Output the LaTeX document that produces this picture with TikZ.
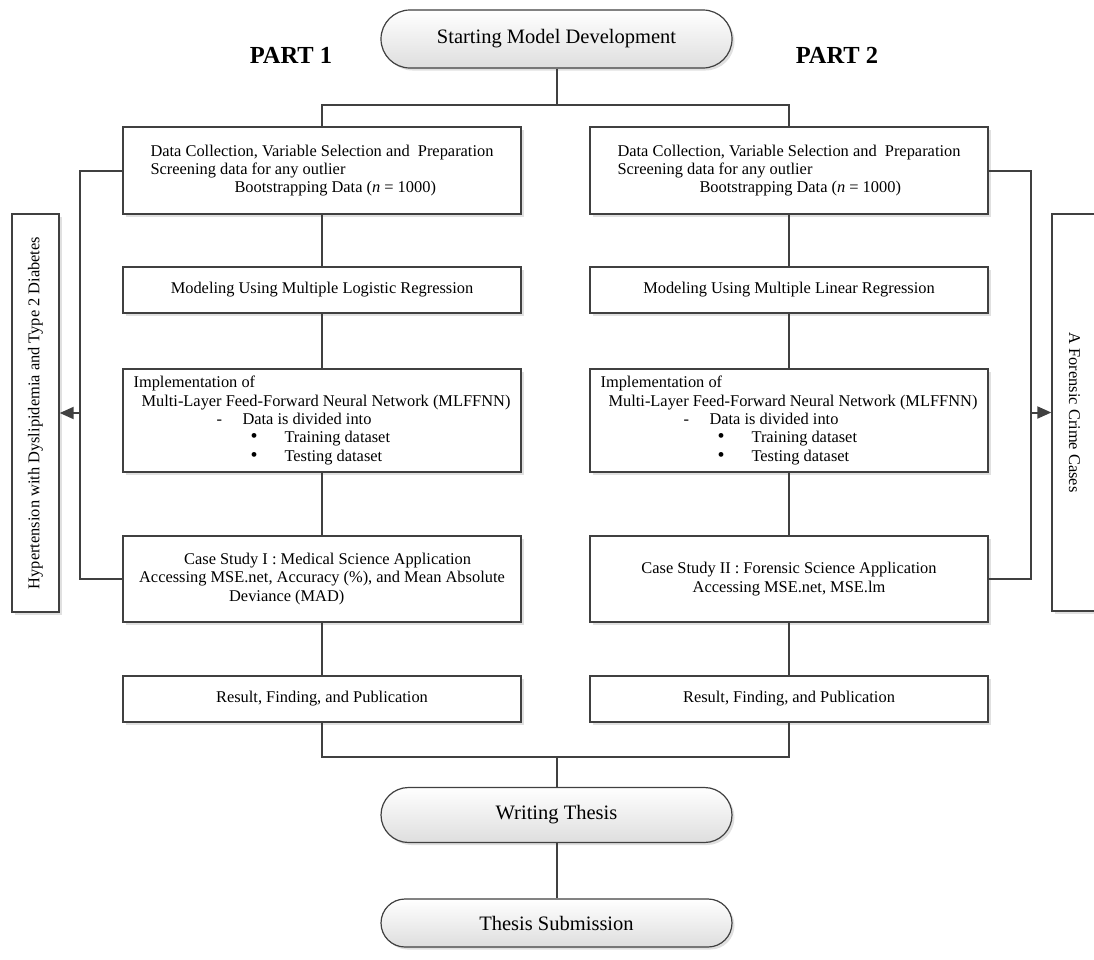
\documentclass[tikz,border=0pt]{standalone}
\usepackage{fontspec}
\setmainfont{Liberation Serif}
\usetikzlibrary{shapes.misc,arrows.meta,shadows}
\definecolor{lc}{HTML}{404040}
\newcommand\boxfont{\fontsize{16.4pt}{18.3pt}\selectfont}
\newcommand\termfont{\fontsize{20.5pt}{24pt}\selectfont}
\newcommand\partfont{\fontsize{24.5pt}{26pt}\selectfont\bfseries}
\newcommand\bigbul{\smash{\fontsize{20pt}{18pt}\selectfont\textbullet}}
\begin{document}
\begin{tikzpicture}[x=1pt,y=-1pt,
  line/.style={draw=lc,line width=2pt},
  arr/.style={-{Triangle[length=14pt,width=12pt]}},
  shad/.style={drop shadow={shadow xshift=2.5pt,shadow yshift=-2.5pt,fill=black,opacity=0.12}},
  box/.style={draw=lc,line width=1.4pt,fill=white,minimum width=398pt,inner sep=0pt,align=left,font=\boxfont,shad},
  sidebox/.style={draw=lc,line width=1.4pt,fill=white,inner sep=0pt,font=\boxfont,shad},
  term/.style={rounded rectangle,draw=lc,line width=1.2pt,top color=white,bottom color=black!13,minimum width=351pt,inner sep=0pt,font=\termfont,shad},
  partlbl/.style={font=\partfont,inner sep=0pt}
]
\useasboundingbox (0,0) rectangle (1094,959);

% terminals
\node[term,minimum height=58pt] (start) at (556.5,39) {Starting Model Development};
\node[term,minimum height=55pt] (write) at (556.5,815) {Writing Thesis};
\node[term,minimum height=48pt] (submit) at (556.5,923) {Thesis Submission};

% part labels
\node[partlbl] (p1) at (291,55) {PART 1};
\node[partlbl] (p2) at (837,55) {PART 2};

% left column
\node[box,minimum height=87pt] (L1) at (322,170.5) {Data Collection, Variable Selection and\ \ Preparation\\Screening data for any outlier\\\hspace*{84pt}Bootstrapping Data (\textit{n} = 1000)};
\node[box,minimum height=46pt,align=center] (L2) at (322,290) {Modeling Using Multiple Logistic Regression};
\node[box,minimum height=103pt] (L3) at (322,420.5) {Implementation of\\\hspace*{8pt}Multi-Layer Feed-Forward Neural Network (MLFFNN)\\\hspace*{83pt}\makebox[26pt][l]{-}Data is divided into\\\hspace*{117pt}\makebox[34pt][l]{\bigbul}Training dataset\\\hspace*{117pt}\makebox[34pt][l]{\bigbul}Testing dataset};
\node[box,minimum height=86pt] (L4) at (322,579) {\hspace*{45pt}Case Study I : Medical Science Application\\Accessing MSE.net, Accuracy (\%), and Mean Absolute\hspace*{14pt}\\\hspace*{90pt}Deviance (MAD)};
\node[box,minimum height=46pt,align=center] (L5) at (322,699) {Result, Finding, and Publication};

% right column
\node[box,minimum height=87pt] (R1) at (789,170.5) {Data Collection, Variable Selection and\ \ Preparation\\Screening data for any outlier\\\hspace*{82pt}Bootstrapping Data (\textit{n} = 1000)};
\node[box,minimum height=46pt,align=center] (R2) at (789,290) {Modeling Using Multiple Linear Regression};
\node[box,minimum height=103pt] (R3) at (789,420.5) {Implementation of\\\hspace*{8pt}Multi-Layer Feed-Forward Neural Network (MLFFNN)\\\hspace*{83pt}\makebox[26pt][l]{-}Data is divided into\\\hspace*{117pt}\makebox[34pt][l]{\bigbul}Training dataset\\\hspace*{117pt}\makebox[34pt][l]{\bigbul}Testing dataset};
\node[box,minimum height=86pt,align=center] (R4) at (789,579) {Case Study II : Forensic Science Application\\Accessing MSE.net, MSE.lm};
\node[box,minimum height=46pt,align=center] (R5) at (789,699) {Result, Finding, and Publication};

% side boxes
\node[sidebox,rotate=90,minimum width=398pt,minimum height=47pt] (lside) at (35.5,413) {Hypertension with Dyslipidemia and Type 2 Diabetes};
\node[sidebox,rotate=-90,minimum width=397pt,minimum height=45pt] (rside) at (1074.5,412.5) {A Forensic Crime Cases};

% coordinates
\coordinate (tj) at (556.5,105);
\coordinate (bj) at (556.5,757);
\coordinate (lb) at (80,400);
\coordinate (rb) at (1031,400);

% connectors
\draw[line] (start.south) -- (tj);
\draw[line] (L1.north) |- (tj) -| (R1.north);
\draw[line] (L1.south) -- (L2.north);
\draw[line] (L2.south) -- (L3.north);
\draw[line] (L3.south) -- (L4.north);
\draw[line] (L4.south) -- (L5.north);
\draw[line] (R1.south) -- (R2.north);
\draw[line] (R2.south) -- (R3.north);
\draw[line] (R3.south) -- (R4.north);
\draw[line] (R4.south) -- (R5.north);
\draw[line] (L5.south) |- (bj) -| (R5.south);
\draw[line] (bj) -- (write.north);
\draw[line] (write.south) -- (submit.north);

% brackets
\draw[line] (L1.west) -| (lb) |- (L4.west);
\draw[line] (R1.east) -| (rb) |- (R4.east);
\draw[line,arr] (lb |- lside.south) -- (lside.south);
\draw[line,arr] (rb |- rside.south) -- (rside.south);
\end{tikzpicture}
\end{document}
